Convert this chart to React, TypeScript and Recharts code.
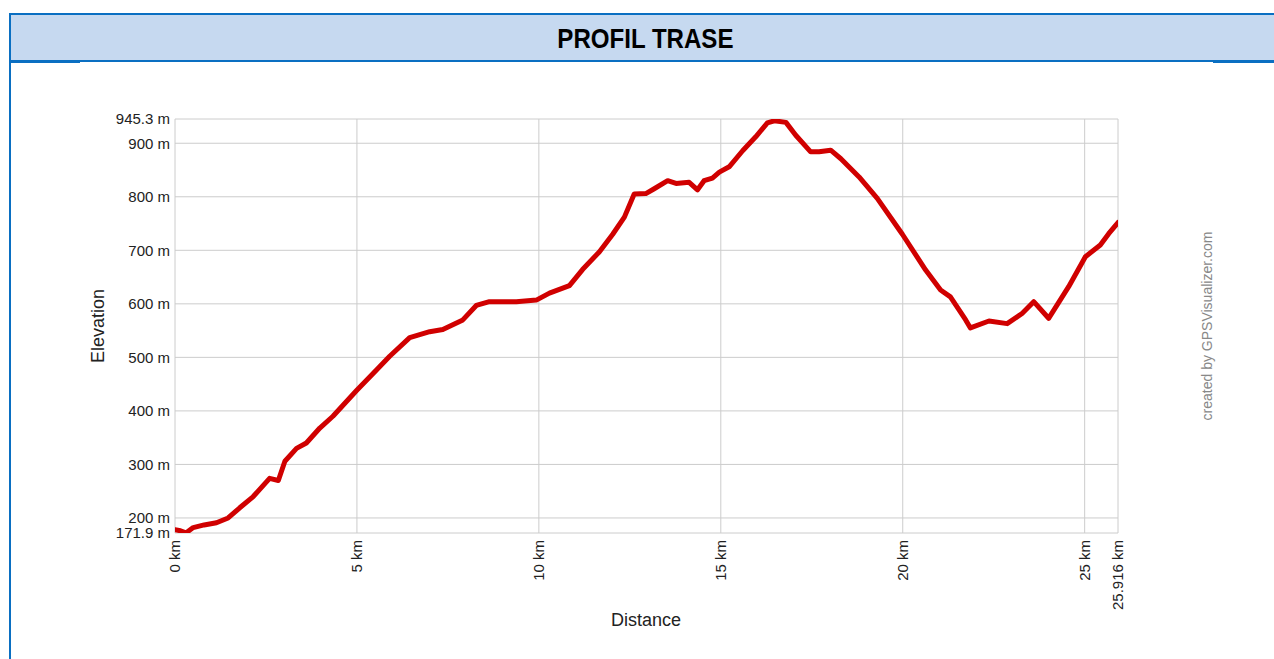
import React from 'react';
import { LineChart, Line, XAxis, YAxis, CartesianGrid } from 'recharts';

const distanceKm = [
  0, 0.15, 0.3, 0.5, 0.8, 1.14, 1.46, 1.78, 2.15, 2.6, 2.84, 3.02, 3.34, 3.61, 3.98, 4.34,
  4.99, 5.53, 5.9, 6.45, 7.0, 7.36, 7.91, 8.28, 8.64, 9.38, 9.93, 10.29, 10.84, 11.2, 11.66,
  12.03, 12.35, 12.62, 12.94, 13.17, 13.54, 13.77, 14.13, 14.36, 14.54, 14.77, 14.96, 15.23,
  15.6, 15.96, 16.28, 16.47, 16.79, 17.06, 17.47, 17.7, 18.02, 18.3, 18.8, 19.3, 19.99, 20.63,
  21.04, 21.31, 21.73, 21.86, 22.37, 22.87, 23.28, 23.6, 24.01, 24.56, 25.02, 25.43, 25.66, 25.916,
];
const elevationM = [
  178, 176, 172, 182, 187, 191, 200, 219, 240, 274, 270, 306, 330, 340, 368, 390,
  438, 476, 502, 537, 548, 552, 570, 597, 604, 604, 607, 620, 634, 664, 697,
  730, 762, 805, 806, 815, 830, 825, 827, 813, 830, 835, 846, 856,
  886, 912, 938, 942, 939, 915, 884, 884, 887, 871, 837, 797, 730, 663,
  626, 613, 570, 555, 568, 563, 582, 604, 573, 632, 688, 710, 731, 752,
];
const xTicks = [0, 5, 10, 15, 20, 25, 25.916];
const yTicks = [171.9, 200, 300, 400, 500, 600, 700, 800, 900, 945.3];

const data = distanceKm.map((km, i) => ({ km, ele: elevationM[i] }));

const FONT = "Arial, 'Liberation Sans', sans-serif";

const XTick = (props: any) => {
  const { x, payload } = props;
  return (
    <text
      x={x}
      y={540}
      transform={`rotate(-90 ${x} 540)`}
      textAnchor="end"
      dy="0.36em"
      fontSize={15}
      fontFamily={FONT}
      fill="#222"
    >
      {`${payload.value} km`}
    </text>
  );
};

const YTick = (props: any) => {
  const { y, payload } = props;
  return (
    <text x={170} y={y} textAnchor="end" dy="0.36em" fontSize={15} fontFamily={FONT} fill="#222">
      {`${payload.value} m`}
    </text>
  );
};

export default function App() {
  const blue = '#0a6fc2';
  return (
    <div style={{ position: 'absolute', left: 0, top: 0, width: 1274, height: 659, background: '#fff', overflow: 'hidden' }}>
      <div style={{ position: 'absolute', left: 9, top: 13, width: 1265, height: 2, background: blue }} />
      <div style={{ position: 'absolute', left: 9, top: 15, width: 1265, height: 45, background: '#c6d9f0' }} />
      <div style={{ position: 'absolute', left: 9, top: 60, width: 1265, height: 2, background: blue }} />
      <div style={{ position: 'absolute', left: 9, top: 62, width: 71, height: 1, background: blue }} />
      <div style={{ position: 'absolute', left: 1213, top: 62, width: 61, height: 1, background: blue }} />
      <div style={{ position: 'absolute', left: 9, top: 13, width: 2, height: 646, background: blue }} />
      <div
        style={{
          position: 'absolute',
          left: 17,
          top: 16,
          width: 1257,
          height: 45,
          display: 'flex',
          alignItems: 'center',
          justifyContent: 'center',
        }}
      >
        <span
          style={{
            display: 'inline-block',
            transform: 'scaleX(0.86)',
            fontFamily: "'Liberation Sans Narrow', 'Arial Narrow', Arial, sans-serif",
            fontWeight: 'bold',
            fontSize: 28,
            color: '#000',
            lineHeight: 1,
          }}
        >
          PROFIL TRASE
        </span>
      </div>

      <div style={{ position: 'absolute', left: 0, top: 0 }}>
        <LineChart width={1274} height={659} data={data} margin={{ top: 119, right: 156, bottom: 46, left: 115 }}>
          <CartesianGrid stroke="#cccccc" strokeWidth={1} />
          <XAxis
            dataKey="km"
            type="number"
            domain={[0, 25.916]}
            ticks={xTicks}
            interval={0}
            allowDataOverflow
            axisLine={false}
            tickLine={false}
            height={80}
            tick={<XTick />}
          />
          <YAxis
            dataKey="ele"
            type="number"
            domain={[171.9, 945.3]}
            ticks={yTicks}
            interval={0}
            allowDataOverflow
            axisLine={false}
            tickLine={false}
            width={60}
            tick={<YTick />}
          />
          <Line
            type="linear"
            dataKey="ele"
            stroke="#d00000"
            strokeWidth={5}
            dot={false}
            isAnimationActive={false}
            strokeLinejoin="round"
            strokeLinecap="round"
          />
        </LineChart>
      </div>

      <svg width={1274} height={659} style={{ position: 'absolute', left: 0, top: 0, pointerEvents: 'none' }}>
        <text x={104} y={326} transform="rotate(-90 104 326)" textAnchor="middle" fontSize={18} fontFamily={FONT} fill="#222">
          Elevation
        </text>
        <text x={646} y={626} textAnchor="middle" fontSize={18} fontFamily={FONT} fill="#222">
          Distance
        </text>
        <text x={1212} y={326} transform="rotate(-90 1212 326)" textAnchor="middle" fontSize={14} fontFamily={FONT} fill="#888">
          created by GPSVisualizer.com
        </text>
      </svg>
    </div>
  );
}
